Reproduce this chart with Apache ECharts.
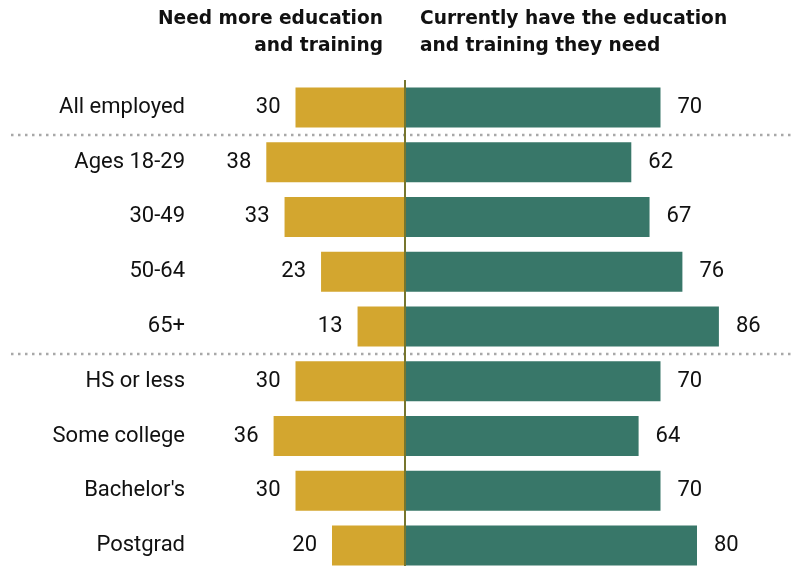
<!DOCTYPE html>
<html>
<head>
<meta charset="utf-8">
<script src="https://cdn.jsdelivr.net/npm/echarts@6/dist/echarts.min.js"></script>
<style>
  html, body { margin: 0; padding: 0; background: #fff; overflow: hidden; }
  #chart { width: 794px; height: 600px; }
</style>
</head>
<body>
<div id="chart"></div>
<script>
// Share of employed adults by whether they have the education and training they need
const categories = ['All employed', 'Ages 18-29', '30-49', '50-64', '65+', 'HS or less', 'Some college', "Bachelor's", 'Postgrad'];
const needMore = [30, 38, 33, 23, 13, 30, 36, 30, 20];
const haveNeeded = [70, 62, 67, 76, 86, 70, 64, 70, 80];
const leftHeader = 'Need more education\nand training';
const rightHeader = 'Currently have the education\nand training they need';
// rows after which a dotted divider is drawn
const dividersAfter = [0, 4];

const FONT = 'Roboto, "Liberation Sans", Arial, sans-serif';
const HEAD_FONT = '"DejaVu Sans", Roboto, sans-serif';
const chart = echarts.init(document.getElementById('chart'));

const option = {
  animation: false,
  grid: { left: 259, top: 80, width: 511, height: 493, containLabel: false },
  xAxis: {
    type: 'value', min: -40, max: 100, show: false
  },
  yAxis: {
    type: 'category', data: categories, inverse: true,
    axisLine: { show: false }, axisTick: { show: false }, splitLine: { show: false },
    axisLabel: { margin: 74, fontSize: 22, color: '#111', fontFamily: FONT, padding: [4, 0, 0, 0] }
  },
  series: [
    {
      name: 'Need more', type: 'bar', stack: 'total', barWidth: 40,
      data: needMore.map(v => -v),
      itemStyle: { color: '#D3A62F' },
      label: {
        show: true, position: 'left', distance: 15, fontSize: 22, color: '#111', fontFamily: FONT,
        padding: [4, 0, 0, 0],
        formatter: p => Math.abs(p.value)
      },
      markLine: {
        silent: true, symbol: 'none', z: 10,
        label: { show: false },
        lineStyle: { color: '#77762E', width: 2, type: 'solid' },
        data: [{ xAxis: 0 }]
      }
    },
    {
      name: 'Have needed', type: 'bar', stack: 'total', barWidth: 40,
      data: haveNeeded,
      itemStyle: { color: '#387769' },
      label: {
        show: true, position: 'right', distance: 17, fontSize: 22, color: '#111', fontFamily: FONT,
        padding: [4, 0, 0, 0]
      }
    }
  ],
  graphic: [
    {
      type: 'text', right: 794 - 383, top: 6,
      style: { text: leftHeader, textAlign: 'right', font: 'bold 18.6px ' + HEAD_FONT, fill: '#111', lineHeight: 27 }
    },
    {
      type: 'text', left: 420, top: 6,
      style: { text: rightHeader, textAlign: 'left', font: 'bold 18.6px ' + HEAD_FONT, fill: '#111', lineHeight: 27 }
    }
  ]
};
chart.setOption(option);

// dotted dividers between category groups, placed at the boundary between rows
const dividers = dividersAfter.map(i => {
  const a = chart.convertToPixel({ yAxisIndex: 0 }, categories[i]);
  const b = chart.convertToPixel({ yAxisIndex: 0 }, categories[i + 1]);
  const y = Math.round((a + b) / 2);
  return {
    type: 'line', z: 1,
    shape: { x1: 11, y1: y, x2: 791, y2: y },
    style: { stroke: '#A8A8A8', lineWidth: 2.5, lineDash: [2.5, 4.5] }
  };
});
chart.setOption({ graphic: option.graphic.concat(dividers) });
</script>
</body>
</html>
